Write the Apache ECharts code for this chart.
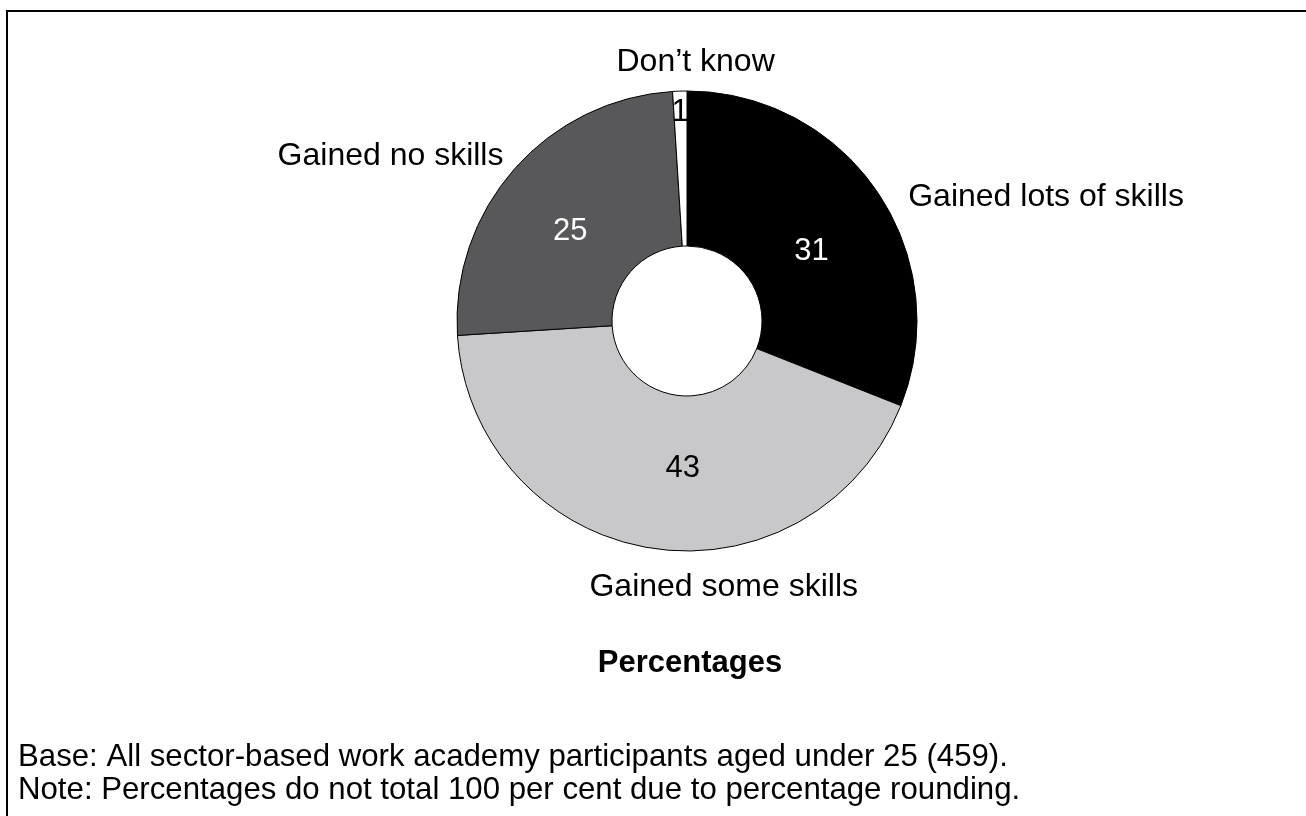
<!DOCTYPE html>
<html>
<head>
<meta charset="utf-8">
<title>Skills gained</title>
<script src="https://cdn.jsdelivr.net/npm/echarts@6/dist/echarts.min.js"></script>
<style>
  html, body { margin: 0; padding: 0; background: #fff; }
  #chart { width: 1306px; height: 816px; }
</style>
</head>
<body>
<div id="chart"></div>
<script>
// Categories and shares (per cent), clockwise from 12 o'clock
const categories = ['Gained lots of skills', 'Gained some skills', 'Gained no skills', 'Don\u2019t know'];
const shares = [31, 43, 25, 1];
const sliceColors = ['#000000', '#c8c8ca', '#58585a', '#ffffff'];
const valueLabelColors = ['#ffffff', '#000000', '#ffffff', '#000000'];

// Fine offsets for the value labels and the category names
const valueOffsets = [[-4, 18], [20, -6], [0, 13], [-2, -53]];
const nameOffsets = [[26, 5], [212, 39], [-6, -13], [100, -29]];

const FONT = 'Liberation Sans, Arial, Helvetica, sans-serif';
const FONT_SIZE = 31;
const NAME_FONT_SIZE = 32;
const center = [687, 321];
const radius = [75, 230];

const chart = echarts.init(document.getElementById('chart'), null, { renderer: 'canvas' });

const sliceData = categories.map((name, i) => ({
  name: name,
  value: shares[i],
  itemStyle: { color: sliceColors[i] },
  label: { color: valueLabelColors[i] }
}));

const nameData = categories.map((name, i) => ({ name: name, value: shares[i] }));

chart.setOption({
  animation: false,
  backgroundColor: '#ffffff',
  title: [
    {
      text: 'Percentages',
      left: 685, top: 643, textAlign: 'center',
      textStyle: { fontFamily: FONT, fontSize: FONT_SIZE, fontWeight: 'bold', color: '#000', lineHeight: 31 }
    },
    {
      text: 'Base: All sector-based work academy participants aged under 25 (459).\nNote: Percentages do not total 100 per cent due to percentage rounding.',
      left: 13, top: 736,
      textStyle: { fontFamily: FONT, fontSize: 31.2, fontWeight: 'normal', color: '#000', lineHeight: 33 }
    }
  ],
  graphic: [
    {
      type: 'polyline',
      shape: { points: [[7, 816], [7, 11], [1306, 11]] },
      style: { stroke: '#000', lineWidth: 2, fill: null }
    }
  ],
  series: [
    {
      type: 'pie',
      center: center,
      radius: radius,
      startAngle: 90,
      clockwise: true,
      avoidLabelOverlap: false,
      silent: true,
      data: sliceData,
      itemStyle: { borderColor: '#000', borderWidth: 1 },
      label: {
        show: true,
        position: 'inside',
        formatter: '{c}',
        fontFamily: FONT,
        fontSize: FONT_SIZE
      },
      labelLine: { show: false },
      labelLayout: function (p) {
        const o = valueOffsets[p.dataIndex];
        return { dx: o[0], dy: o[1] };
      }
    },
    {
      type: 'pie',
      center: center,
      radius: radius,
      startAngle: 90,
      clockwise: true,
      avoidLabelOverlap: false,
      silent: true,
      z: 1,
      data: nameData,
      itemStyle: { color: 'rgba(0,0,0,0)', borderWidth: 0 },
      label: {
        show: true,
        position: 'outside',
        formatter: '{b}',
        fontFamily: FONT,
        fontSize: NAME_FONT_SIZE,
        color: '#000'
      },
      labelLine: { show: false, length: 0, length2: 0 },
      labelLayout: function (p) {
        const o = nameOffsets[p.dataIndex];
        return { dx: o[0], dy: o[1] };
      }
    }
  ]
});
</script>
</body>
</html>
